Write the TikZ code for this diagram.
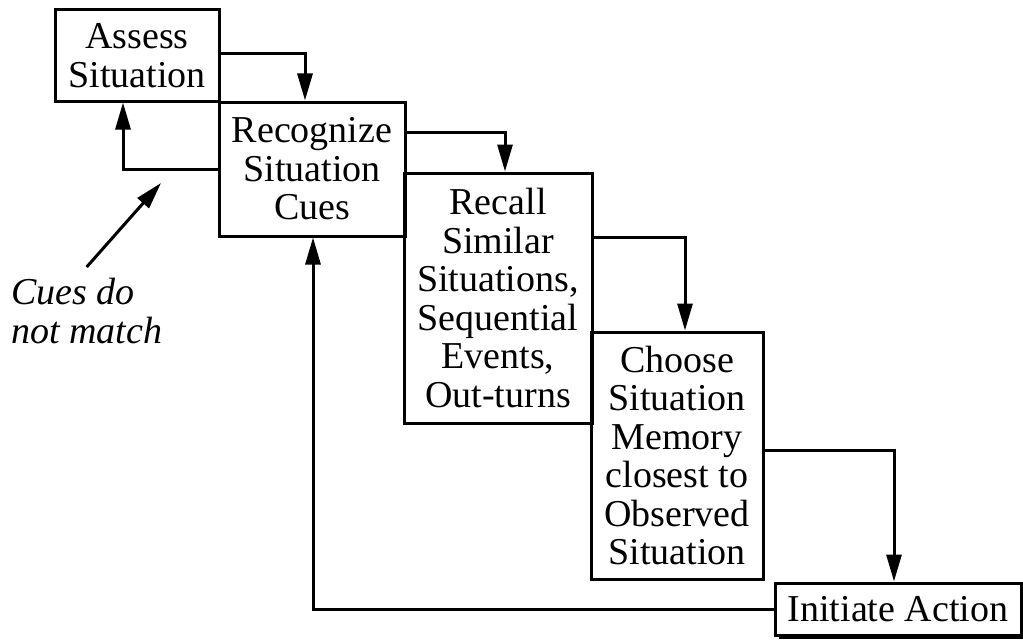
\documentclass[tikz,border=0pt]{standalone}
\usepackage{fontspec}
\setmainfont{LiberationSerif}[Extension=.ttf, UprightFont=*-Regular, ItalicFont=*-Italic, BoldFont=*-Bold]
\usetikzlibrary{arrows.meta,shadows}

\tikzset{
  box/.style={draw, line width=3pt, rectangle, align=center, inner sep=0pt,
    font=\fontsize{38}{38.5}\selectfont},
  flow/.style={line width=3pt, -{Triangle[length=27pt,width=15pt]}},
  note/.style={align=left, inner sep=0pt, font=\fontsize{38}{38.5}\selectfont\itshape}
}

\begin{document}
\begin{tikzpicture}[x=1pt,y=-1pt]
\useasboundingbox (0,0) rectangle (1023,642);

\node[box, minimum width=164pt, minimum height=91pt] (assess) at (137,55.5) {Assess\\Situation};
\node[box, minimum width=186pt, minimum height=134pt] (recog) at (312,169) {Recognize\\Situation\\Cues};
\node[box, minimum width=188pt, minimum height=250pt] (recall) at (498,298) {Recall\\Similar\\Situations,\\Sequential\\Events,\\Out-turns};
\node[box, minimum width=172pt, minimum height=247pt] (choose) at (677,455.5) {Choose\\Situation\\Memory\\closest to\\Observed\\Situation};
\node[box, fill=white, minimum width=246pt, minimum height=52pt,
  drop shadow={shadow xshift=4pt, shadow yshift=-4pt, fill=black, opacity=1}] (action) at (898,609) {Initiate Action};

\node[note, anchor=north west] (cues) at (11,278) {Cues do\\not match};
\coordinate (miss) at (161,183);

\draw[flow] ([yshift=2pt]assess.east) -| ([xshift=-7pt]recog.north);
\draw[flow] ([yshift=37pt]recog.east) -| ([xshift=7pt]recall.north);
\draw[flow] ([yshift=61pt]recall.east) -| ([xshift=8pt]choose.north);
\draw[flow] ([yshift=5pt]choose.east) -| ([xshift=-4pt]action.north);
\draw[flow] (action.west) -| ([xshift=1pt]recog.south);
\draw[flow] (recog.west) -| ([xshift=-14pt]assess.south);
\draw[flow] ([yshift=11pt]cues.north) -- (miss);

\end{tikzpicture}
\end{document}
